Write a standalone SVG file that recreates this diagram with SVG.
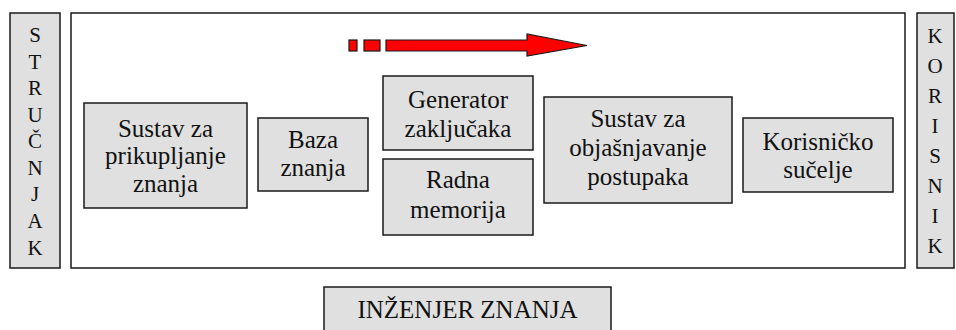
<svg xmlns="http://www.w3.org/2000/svg" width="956" height="330" viewBox="0 0 956 330">
<style>
.box{fill:#e0e0e0;stroke:#1a1a1a;stroke-width:1.5}
.frame{fill:#ffffff;stroke:#1a1a1a;stroke-width:1.5}
.t{font-size:25px;fill:#111;text-anchor:middle}
.v{font-size:21px;fill:#111;text-anchor:middle}
.arr{fill:#ff0000;stroke:#1a1a1a;stroke-width:1.2}
</style>
<g font-family="Liberation Serif, Times New Roman, serif">
<g id="main-frame"><rect class="frame" x="71" y="13" width="834" height="255"/></g>
<g id="strucnjak">
<rect class="box" x="10" y="13" width="50" height="255"/>
<text class="v" x="35" y="42">S</text>
<text class="v" x="35" y="69">T</text>
<text class="v" x="35" y="95">R</text>
<text class="v" x="35" y="122">U</text>
<text class="v" x="35" y="148">Č</text>
<text class="v" x="35" y="175">N</text>
<text class="v" x="35" y="201">J</text>
<text class="v" x="35" y="228">A</text>
<text class="v" x="35" y="255">K</text>
</g>
<g id="korisnik">
<rect class="box" x="917" y="13" width="37" height="255"/>
<text class="v" x="935" y="43">K</text>
<text class="v" x="935" y="73">O</text>
<text class="v" x="935" y="103">R</text>
<text class="v" x="935" y="133">I</text>
<text class="v" x="935" y="163">S</text>
<text class="v" x="935" y="193">N</text>
<text class="v" x="935" y="223">I</text>
<text class="v" x="935" y="253">K</text>
</g>
<g id="connectors">
<rect class="arr" x="349" y="40" width="8" height="11"/>
<rect class="arr" x="364" y="40" width="16" height="11"/>
<path class="arr" d="M386,40 H527 V34 L587,45.5 L527,56 V51 H386 Z"/>
</g>
<g id="sustav-prikupljanje">
<rect class="box" x="84" y="103" width="163" height="105"/>
<text class="t"><tspan x="165.5" y="137">Sustav za</tspan><tspan x="165.5" y="164">prikupljanje</tspan><tspan x="165.5" y="192">znanja</tspan></text>
</g>
<g id="baza-znanja">
<rect class="box" x="258" y="118" width="110" height="73"/>
<text class="t"><tspan x="313" y="148">Baza</tspan><tspan x="313" y="176">znanja</tspan></text>
</g>
<g id="generator">
<rect class="box" x="383" y="76" width="150" height="74"/>
<text class="t"><tspan x="458" y="108">Generator</tspan><tspan x="458" y="137">zaključaka</tspan></text>
</g>
<g id="radna-memorija">
<rect class="box" x="383" y="159" width="150" height="76"/>
<text class="t"><tspan x="458" y="188">Radna</tspan><tspan x="458" y="218">memorija</tspan></text>
</g>
<g id="sustav-objasnjavanje">
<rect class="box" x="544" y="97" width="188" height="106"/>
<text class="t"><tspan x="638" y="127">Sustav za</tspan><tspan x="638" y="156">objašnjavanje</tspan><tspan x="638" y="185">postupaka</tspan></text>
</g>
<g id="korisnicko-sucelje">
<rect class="box" x="743" y="118" width="150" height="74"/>
<text class="t"><tspan x="818" y="150">Korisničko</tspan><tspan x="818" y="178">sučelje</tspan></text>
</g>
<g id="inzenjer-znanja">
<rect class="box" x="324" y="287" width="287" height="44"/>
<text class="t" x="467.5" y="318">INŽENJER ZNANJA</text>
</g>
</g>
</svg>
